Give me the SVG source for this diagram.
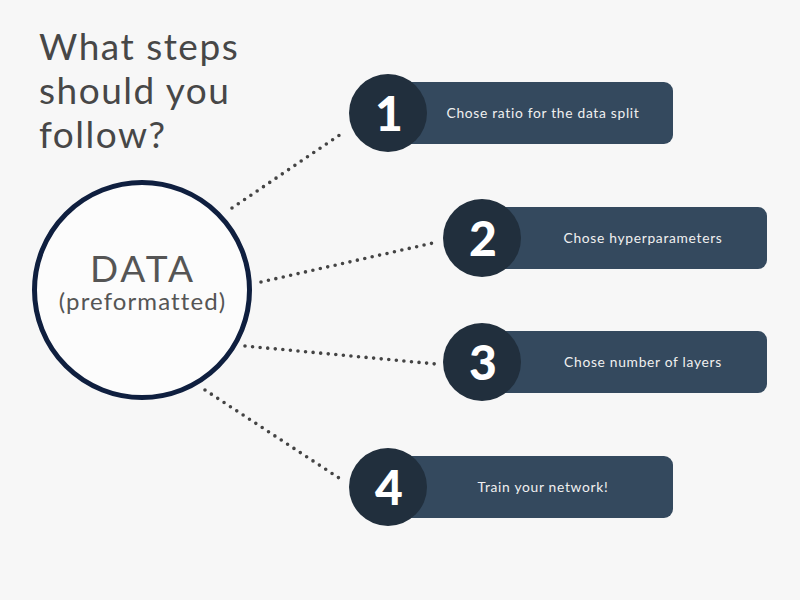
<svg xmlns="http://www.w3.org/2000/svg" width="800" height="600" viewBox="0 0 800 600">
<style>
.title{font-family:Lato,"Noto Sans",sans-serif;font-size:37px;fill:#474747;letter-spacing:1.5px}
.box{fill:#34495e}
.num-c{fill:#212f3d}
.num{font-family:Lato,"Noto Sans",sans-serif;font-weight:900;font-size:48px;fill:#ffffff;text-anchor:middle}
.lbl{font-family:Lato,"Noto Sans",sans-serif;font-size:13.8px;fill:#f0f0f0;text-anchor:middle;letter-spacing:0.7px}
.dot{stroke:#444;stroke-width:3.6;stroke-linecap:round;stroke-dasharray:0 7.6;fill:none}
</style>
<rect width="800" height="600" fill="#f7f7f7"/>
<g id="title">
<text class="title" x="39" y="60">What steps</text>
<text class="title" x="39" y="104">should you</text>
<text class="title" x="39" y="148">follow?</text>
</g>
<g id="connectors">
<line class="dot" x1="232" y1="208" x2="344" y2="132"/>
<line class="dot" x1="261" y1="282" x2="433" y2="243"/>
<line class="dot" x1="245" y1="346" x2="436" y2="364"/>
<line class="dot" x1="205" y1="390" x2="339" y2="478"/>
</g>
<g id="data">
<circle cx="142" cy="290" r="107.5" fill="#fcfcfc" stroke="#0f1f3f" stroke-width="5"/>
<text x="143" y="282" font-family="Lato,'Noto Sans',sans-serif" font-size="37" fill="#555" text-anchor="middle" letter-spacing="3">DATA</text>
<text x="142.5" y="310" font-family="Lato,'Noto Sans',sans-serif" font-size="24" fill="#555" text-anchor="middle" letter-spacing="1.1">(preformatted)</text>
</g>
<g id="step1">
<rect class="box" x="400" y="82" width="273" height="62" rx="9"/>
<circle class="num-c" cx="388" cy="113" r="39"/>
<text class="num" x="389" y="131">1</text>
<text class="lbl" x="543" y="118">Chose ratio for the data split</text>
</g>
<g id="step2">
<rect class="box" x="494" y="207" width="273" height="62" rx="9"/>
<circle class="num-c" cx="482" cy="238" r="39"/>
<text class="num" x="483" y="256">2</text>
<text class="lbl" x="643" y="243">Chose hyperparameters</text>
</g>
<g id="step3">
<rect class="box" x="494" y="331" width="273" height="62" rx="9"/>
<circle class="num-c" cx="482" cy="362" r="39"/>
<text class="num" x="483" y="380">3</text>
<text class="lbl" x="643" y="367">Chose number of layers</text>
</g>
<g id="step4">
<rect class="box" x="400" y="456" width="273" height="62" rx="9"/>
<circle class="num-c" cx="388" cy="487" r="39"/>
<text class="num" x="389" y="505">4</text>
<text class="lbl" x="543" y="492">Train your network!</text>
</g>
</svg>
